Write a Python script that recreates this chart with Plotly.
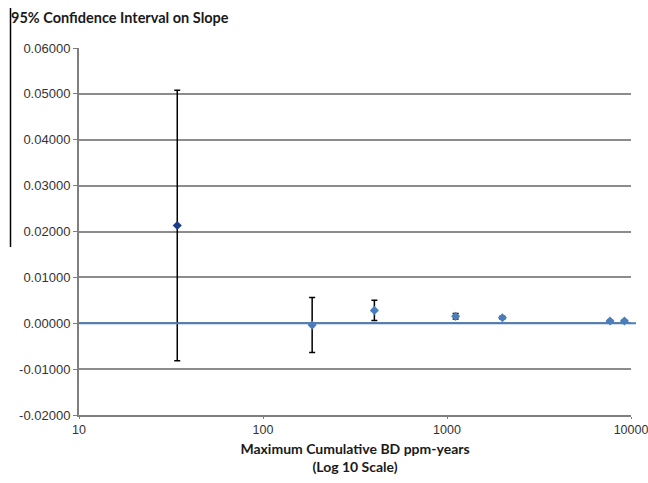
import plotly.graph_objects as go

# Data
exposure = [34.2, 185, 403, 1114, 2000, 7690, 9210]
slope = [0.0213, -0.0004, 0.0028, 0.0015, 0.0012, 0.0005, 0.0005]
ci_half = [0.0295, 0.0060, 0.0022, 0.0006, 0.0003, 0.0002, 0.0002]
y_ticks = [-0.02, -0.01, 0.0, 0.01, 0.02, 0.03, 0.04, 0.05, 0.06]
y_tick_text = ["-0.02000", "-0.01000", "0.00000", "0.01000", "0.02000",
               "0.03000", "0.04000", "0.05000", "0.06000"]
x_ticks = [10, 100, 1000, 10000]
x_tick_text = ["10", "100", "1000", "10000"]
marker_colors = ["#1f3c88", "#4a7ebb", "#4a7ebb", "#4a7ebb", "#4a7ebb", "#4a7ebb", "#4a7ebb"]

# page body has an 8px margin, so the figure is 640x475 placed at (8, 8)
W, H = 640, 475
L, T = 71, 40          # plot area left / top in figure pixels
PW, PH = 552, 367      # plot area size

fig = go.Figure()

fig.add_trace(go.Scatter(
    x=exposure, y=slope, mode="markers",
    marker=dict(symbol="diamond", size=7, color=marker_colors),
    error_y=dict(type="data", array=ci_half, visible=True,
                 color="black", thickness=1.5, width=3),
    showlegend=False, cliponaxis=False,
))

def px(xp):
    return (xp - L) / PW

def py(yp):
    return (T + PH - yp) / PH

fig.update_layout(
    width=W, height=H,
    margin=dict(l=L, r=W - L - PW, t=T, b=H - T - PH),
    paper_bgcolor="white", plot_bgcolor="white",
    font=dict(family="Liberation Sans, Arial", size=13, color="#333333"),
    xaxis=dict(
        type="log", range=[1, 4], automargin=False,
        tickvals=x_ticks, ticktext=x_tick_text, ticklabeloverflow="allow",
        tickfont=dict(size=12.5),
        showgrid=False, zeroline=False,
        showline=True, linecolor="#7f7f7f", linewidth=2,
        ticks="outside", ticklen=2, tickcolor="#7f7f7f",
        title=dict(text="<b>Maximum Cumulative BD ppm-years<br>(Log 10 Scale)</b>",
                   font=dict(family="Lato", size=14, color="#1a1a1a"),
                   standoff=8),
    ),
    yaxis=dict(
        range=[-0.02, 0.06], automargin=False,
        tickvals=y_ticks, ticktext=y_tick_text,
        showgrid=True, gridcolor="#8c8c8c", gridwidth=2,
        zeroline=False,
        showline=True, linecolor="#7f7f7f", linewidth=2,
        ticks="outside", ticklen=4, tickcolor="#7f7f7f",
    ),
    annotations=[dict(
        text="<b>95% Confidence Interval on Slope</b>",
        xref="paper", yref="paper", x=px(1), y=py(10),
        xanchor="left", yanchor="middle", showarrow=False,
        font=dict(family="Lato", size=14.5, color="#1a1a1a"),
    )],
    shapes=[
        dict(type="line", xref="paper", yref="y", x0=0, x1=1.009, y0=0, y1=0,
             line=dict(color="#4a7ebb", width=2), layer="above"),
        dict(type="line", xref="paper", yref="paper",
             x0=px(2.5), x1=px(2.5), y0=py(0), y1=py(239),
             line=dict(color="black", width=1.5)),
    ],
)

fig.write_html("out.html", config={"responsive": False},
               post_script="document.body.style.margin='0';document.body.style.padding='8px 0 0 8px';document.body.style.overflow='hidden';")
